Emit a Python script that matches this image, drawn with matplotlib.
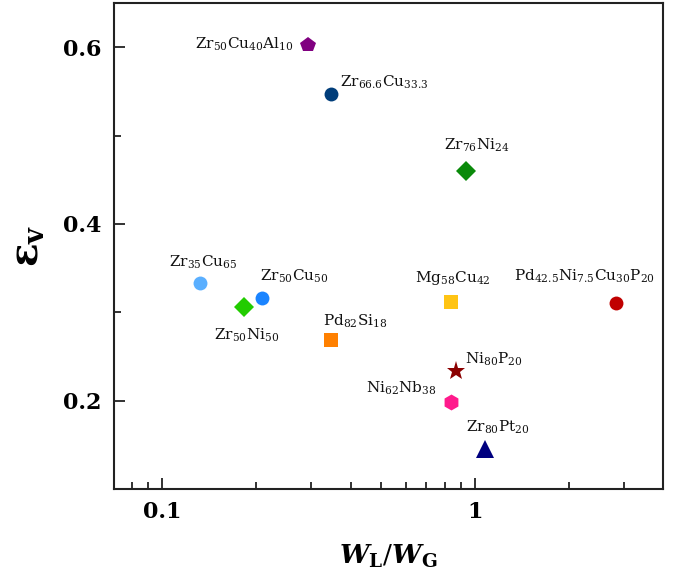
import matplotlib
matplotlib.use("Agg")
import matplotlib.pyplot as plt

# ---- data ----
alloys = [
    r"Zr$_{50}$Cu$_{40}$Al$_{10}$",
    r"Zr$_{66.6}$Cu$_{33.3}$",
    r"Zr$_{76}$Ni$_{24}$",
    r"Zr$_{35}$Cu$_{65}$",
    r"Zr$_{50}$Cu$_{50}$",
    r"Zr$_{50}$Ni$_{50}$",
    r"Pd$_{82}$Si$_{18}$",
    r"Mg$_{58}$Cu$_{42}$",
    r"Pd$_{42.5}$Ni$_{7.5}$Cu$_{30}$P$_{20}$",
    r"Ni$_{80}$P$_{20}$",
    r"Ni$_{62}$Nb$_{38}$",
    r"Zr$_{80}$Pt$_{20}$",
]
wl_wg = [0.293, 0.347, 0.936, 0.132, 0.209, 0.183, 0.347, 0.836, 2.82, 0.870, 0.836, 1.079]
eps_v = [0.603, 0.547, 0.460, 0.333, 0.316, 0.306, 0.269, 0.312, 0.311, 0.234, 0.1985, 0.145]

# ---- styles ----
markers = ["p", "o", "D", "o", "o", "D", "s", "s", "o", "*", "h", "^"]
colors = ["#800080", "#003d7a", "#0a8a0a", "#5aafff", "#1a84ff", "#22cc00",
          "#ff8000", "#ffc414", "#c00000", "#8b0000", "#ff1a8c", "#00007f"]
msizes = [11.5, 10, 10.5, 10, 10, 10.5, 9.5, 9.5, 10, 14, 11.5, 13.5]
# label offsets (pixels) and alignment
offsets = [(-15, 0), (9, 12), (11, 26), (3, 21), (32, 22), (2, -28), (24, 18),
           (2, 24), (-31, 26), (9, 11), (-14, 14), (13, 22)]
aligns = ["right", "left", "center", "center", "center", "center", "center",
          "center", "center", "left", "right", "center"]

plt.rcParams["mathtext.fontset"] = "dejavuserif"
plt.rcParams["font.family"] = "DejaVu Serif"

fig = plt.figure(figsize=(6.77, 5.80), dpi=100)
ax = fig.add_axes([114/677, 1-489/580, (663-114)/677, (489-3)/580])

for x, y, m, c, s in zip(wl_wg, eps_v, markers, colors, msizes):
    ax.plot([x], [y], marker=m, color=c, markersize=s, linestyle="none",
            markeredgewidth=0)

for x, y, lab, off, ha in zip(wl_wg, eps_v, alloys, offsets, aligns):
    ax.annotate(lab, (x, y), xytext=off, textcoords="offset pixels",
                ha=ha, va="center", fontsize=11, color="#111111")

ax.set_xscale("log")
ax.set_xlim(0.07, 4.0)
ax.set_ylim(0.1, 0.65)
ax.set_yticks([0.2, 0.4, 0.6])
ax.set_yticks([0.3, 0.5], minor=True)
ax.set_xticks([0.1, 1])
ax.set_xticklabels(["0.1", "1"])
ax.yaxis.set_minor_formatter(matplotlib.ticker.NullFormatter())
ax.xaxis.set_minor_formatter(matplotlib.ticker.NullFormatter())

ax.tick_params(which="both", direction="in", top=False, right=False,
               width=1.3, color="#222222")
ax.tick_params(which="major", length=8, pad=9, labelsize=16)
ax.tick_params(which="minor", length=5)
for lab in ax.get_xticklabels() + ax.get_yticklabels():
    lab.set_fontweight("bold")
for sp in ax.spines.values():
    sp.set_linewidth(1.5)
    sp.set_color("#222222")

ax.set_ylabel(r"$\boldsymbol{\varepsilon}_{\mathbf{v}}$", fontsize=28, labelpad=12)
ax.set_xlabel(r"$\boldsymbol{W}_{\mathbf{L}}/\boldsymbol{W}_{\mathbf{G}}$", fontsize=19,
              labelpad=14)

fig.savefig("out.png", dpi=100)
